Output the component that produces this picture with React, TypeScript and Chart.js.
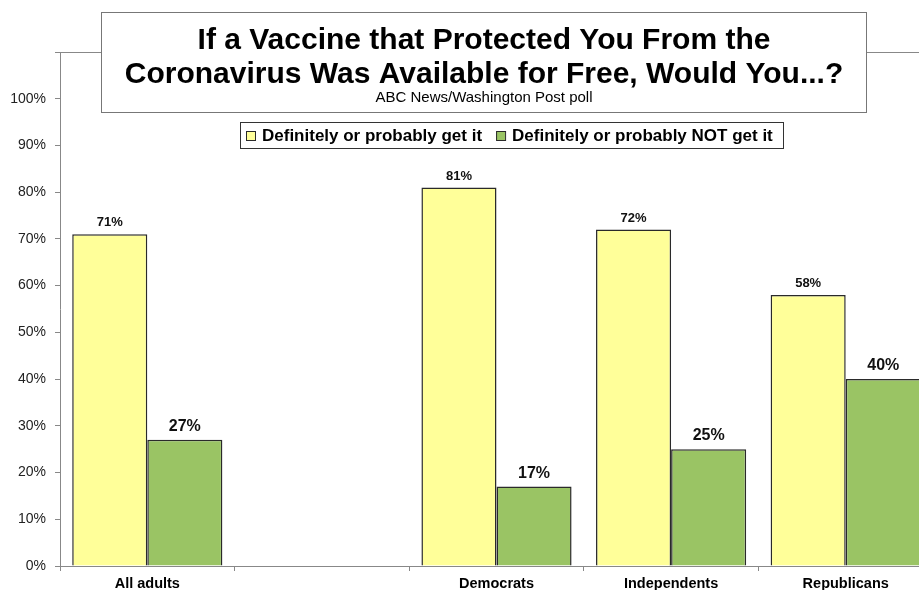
import React, { useEffect, useRef } from "react";
import { Chart, registerables } from "chart.js";

Chart.register(...registerables);

const categories = ["All adults", "", "Democrats", "Independents", "Republicans"];
const getIt = [71, null, 81, 72, 58];
const notGetIt = [27, null, 17, 25, 40];
const seriesLabels = ["Definitely or probably get it", "Definitely or probably NOT get it"];
const titleLines = ["If a Vaccine that Protected You From the", "Coronavirus Was Available for Free, Would You...?"];
const subtitle = "ABC News/Washington Post poll";
const yTicks = [0, 10, 20, 30, 40, 50, 60, 70, 80, 90, 100];

const YELLOW = "#FFFF99";
const GREEN = "#9AC464";
const EDGE = "#2a2a2a";
const FONT = "'Liberation Sans', Arial, sans-serif";

const decorPlugin = {
  id: "decor",
  afterDatasetsDraw(chart: any) {
    const ctx = chart.ctx;
    const area = chart.chartArea;
    ctx.save();
    // top border of plot area
    ctx.strokeStyle = "#888";
    ctx.lineWidth = 1;
    ctx.beginPath();
    ctx.moveTo(area.left - 5, Math.round(area.top) + 0.5);
    ctx.lineTo(area.right, Math.round(area.top) + 0.5);
    ctx.stroke();

    // value labels
    chart.data.datasets.forEach((ds: any, di: number) => {
      const meta = chart.getDatasetMeta(di);
      meta.data.forEach((el: any, i: number) => {
        const v = ds.data[i];
        if (v === null || v === undefined) return;
        ctx.fillStyle = "#111";
        ctx.textAlign = "center";
        ctx.textBaseline = "alphabetic";
        if (di === 0) {
          ctx.font = `bold 13px ${FONT}`;
          ctx.fillText(`${v}%`, el.x, el.y - 8);
        } else {
          ctx.font = `bold 16px ${FONT}`;
          ctx.fillText(`${v}%`, el.x, el.y - 9);
        }
      });
    });

    // title box
    ctx.fillStyle = "#fff";
    ctx.fillRect(101, 12, 765, 100);
    ctx.strokeStyle = "#777";
    ctx.strokeRect(101.5, 12.5, 765, 100);
    ctx.fillStyle = "#000";
    ctx.textAlign = "center";
    ctx.textBaseline = "alphabetic";
    ctx.font = `bold 30px ${FONT}`;
    ctx.fillText(titleLines[0], 484, 49);
    ctx.fillText(titleLines[1], 484, 83);
    ctx.font = `15px ${FONT}`;
    ctx.fillText(subtitle, 484, 102);

    // legend box
    ctx.fillStyle = "#fff";
    ctx.fillRect(240, 122, 543, 26);
    ctx.strokeStyle = "#333";
    ctx.strokeRect(240.5, 122.5, 543, 26);
    ctx.font = `bold 17px ${FONT}`;
    ctx.textAlign = "left";
    ctx.textBaseline = "middle";
    let x = 246;
    const cy = 135.5;
    chart.data.datasets.forEach((ds: any) => {
      ctx.fillStyle = ds.backgroundColor;
      ctx.fillRect(x, cy - 4.5, 9, 9);
      ctx.strokeStyle = EDGE;
      ctx.strokeRect(x + 0.5, cy - 4, 9, 9);
      ctx.fillStyle = "#000";
      ctx.fillText(ds.label, x + 16, cy + 0.5);
      x += 16 + ctx.measureText(ds.label).width + 14;
    });
    ctx.restore();
  },
};

export default function App() {
  const ref = useRef<HTMLCanvasElement | null>(null);
  useEffect(() => {
    document.body.style.margin = "0";
    if (!ref.current) return;
    const chart = new Chart(ref.current, {
      type: "bar",
      data: {
        labels: categories,
        datasets: [
          {
            label: seriesLabels[0],
            data: getIt,
            backgroundColor: YELLOW,
            borderColor: EDGE,
            borderWidth: 1.5,
            categoryPercentage: 0.86,
            barPercentage: 1,
          },
          {
            label: seriesLabels[1],
            data: notGetIt,
            backgroundColor: GREEN,
            borderColor: EDGE,
            borderWidth: 1.5,
            categoryPercentage: 0.86,
            barPercentage: 1,
          },
        ],
      },
      options: {
        responsive: false,
        animation: false,
        layout: { padding: { top: 52, right: 1, left: 0, bottom: 0 } },
        plugins: {
          legend: { display: false },
          title: { display: false },
          tooltip: { enabled: false },
        },
        scales: {
          x: {
            grid: { drawOnChartArea: false, drawTicks: true, tickLength: 5, color: "#888", offset: true },
            border: { color: "#888" },
            ticks: { color: "#000", font: { family: FONT, size: 14.5, weight: "bold" }, padding: 4, maxRotation: 0 },
            afterFit: (s: any) => {
              s.height = 24;
            },
          },
          y: {
            min: 0,
            max: 110,
            afterBuildTicks: (s: any) => {
              s.ticks = [...yTicks, 110].map((v) => ({ value: v }));
            },
            grid: { drawOnChartArea: false, drawTicks: true, tickLength: 5, color: "#888" },
            border: { color: "#888" },
            ticks: {
              color: "#222",
              padding: 9,
              font: { family: FONT, size: 14 },
              callback: (v: any) => (Number(v) > 100 ? "" : `${v}%`),
            },
            afterFit: (s: any) => {
              s.width = 60;
            },
          },
        },
      },
      plugins: [decorPlugin],
    });
    return () => chart.destroy();
  }, []);
  return (
    <div style={{ width: 919, height: 590, overflow: "hidden", position: "relative", background: "#fff" }}>
      <canvas ref={ref} width={934} height={590} style={{ display: "block" }} />
    </div>
  );
}
